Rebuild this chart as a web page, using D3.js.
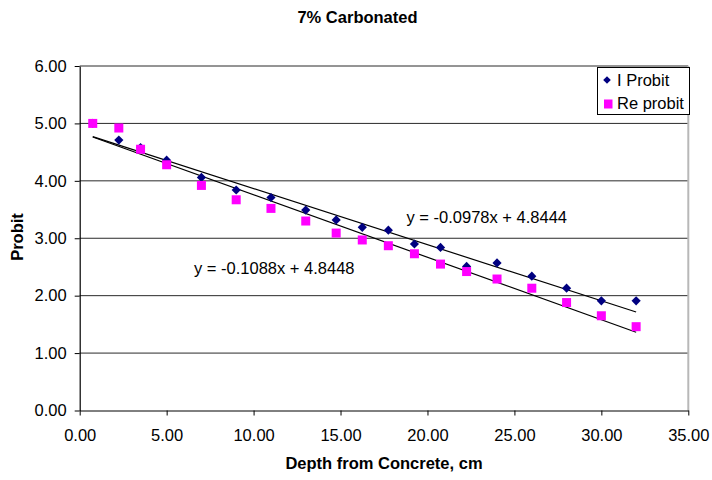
<!DOCTYPE html>
<html>
<head>
<meta charset="utf-8">
<script src="https://cdn.jsdelivr.net/npm/d3@7"></script>
<style>
    body { margin: 0; background: #fff; }
    text { font-family: "Liberation Sans", Arial, sans-serif; }
</style>
</head>
<body>
<svg id="chart" width="712" height="480"></svg>
<script>
var depth = [0.75, 2.25, 3.5, 5, 7, 9, 11, 13, 14.75, 16.25, 17.75, 19.25, 20.75, 22.25, 24, 26, 28, 30, 32]
var iProbit = [5.00, 4.71, 4.58, 4.36, 4.06, 3.84, 3.71, 3.49, 3.32, 3.19, 3.14, 2.90, 2.84, 2.51, 2.57, 2.34, 2.13, 1.91, 1.91]
var reProbit = [5.00, 4.92, 4.55, 4.28, 3.92, 3.67, 3.52, 3.30, 3.09, 2.97, 2.87, 2.73, 2.55, 2.42, 2.29, 2.13, 1.88, 1.65, 1.46]
var seriesNames = ['I Probit', 'Re probit']
// trendline coefficients [slope, intercept]
var trendI = [-0.0978, 4.8444]
var trendRe = [-0.1088, 4.8448]
var xTicks = [0, 5, 10, 15, 20, 25, 30, 35]
var yTicks = [0, 1, 2, 3, 4, 5, 6]

var svg = d3.select("#chart")
var fs = 16.5

var x = d3.scaleLinear().domain([0, 35]).range([79.7, 688.3])
var y = d3.scaleLinear().domain([0, 6]).range([410.5, 66])

// gridlines
svg.append("g")
    .selectAll("line")
    .data(yTicks.slice(1))
    .enter().append("line")
    .attr("x1", x(0)).attr("x2", x(35))
    .attr("y1", d => y(d)).attr("y2", d => y(d))
    .attr("stroke", "#2a2a2a")
    .attr("stroke-width", 1)

// plot area right border
svg.append("line")
    .attr("x1", x(35)).attr("x2", x(35))
    .attr("y1", y(6)).attr("y2", y(0))
    .attr("stroke", "#b8b8b8")
    .attr("stroke-width", 2)

var xAxis = svg.append("g")
    .attr("transform", `translate(0,${y(0)})`)
    .call(d3.axisBottom(x).tickValues(xTicks).tickFormat(d3.format(".2f"))
        .tickSize(5).tickSizeOuter(0).tickPadding(14))

var yAxis = svg.append("g")
    .attr("transform", `translate(${x(0)},0)`)
    .call(d3.axisLeft(y).tickValues(yTicks).tickFormat(d3.format(".2f"))
        .tickSize(5).tickSizeOuter(0).tickPadding(8))

svg.selectAll(".tick text")
    .style("font-size", fs + "px")
    .attr("fill", "#000")
svg.selectAll(".domain, .tick line").attr("stroke", "#000")
yAxis.select(".domain").attr("stroke-width", 1.2)

// trendlines
function trend(c) {
    var x0 = d3.min(depth), x1 = d3.max(depth)
    return [[x0, c[0] * x0 + c[1]], [x1, c[0] * x1 + c[1]]]
}
var line = d3.line().x(d => x(d[0])).y(d => y(d[1]))
;[trendI, trendRe].forEach(function (c) {
    svg.append("path")
        .attr("d", line(trend(c)))
        .attr("fill", "none")
        .attr("stroke", "#000")
        .attr("stroke-width", 1.2)
})

var diamond = "M0,-4.6L4.6,0L0,4.6L-4.6,0Z"

svg.append("g")
    .selectAll("path")
    .data(depth.map((d, i) => [d, iProbit[i]]))
    .enter().append("path")
    .attr("d", diamond)
    .attr("transform", d => `translate(${x(d[0])},${y(d[1])})`)
    .attr("fill", "#000080")

svg.append("g")
    .selectAll("rect")
    .data(depth.map((d, i) => [d, reProbit[i]]))
    .enter().append("rect")
    .attr("x", d => x(d[0]) - 4.5)
    .attr("y", d => y(d[1]) - 4.5)
    .attr("width", 9)
    .attr("height", 9)
    .attr("fill", "#ff00ff")

// equations
svg.append("text")
    .attr("x", 406.5).attr("y", 222.5)
    .style("font-size", fs + "px")
    .text("y = " + trendI[0] + "x + " + trendI[1])
svg.append("text")
    .attr("x", 194).attr("y", 273.5)
    .style("font-size", fs + "px")
    .text("y = " + trendRe[0] + "x + " + trendRe[1])

// titles
svg.append("text")
    .attr("x", 357.5).attr("y", 23)
    .attr("text-anchor", "middle")
    .style("font-size", fs + "px")
    .style("font-weight", "bold")
    .text("7% Carbonated")

svg.append("text")
    .attr("x", 384).attr("y", 469)
    .attr("text-anchor", "middle")
    .style("font-size", fs + "px")
    .style("font-weight", "bold")
    .text("Depth from Concrete, cm")

svg.append("text")
    .attr("transform", "translate(23,237) rotate(-90)")
    .attr("text-anchor", "middle")
    .style("font-size", fs + "px")
    .style("font-weight", "bold")
    .text("Probit")

// legend
var legend = svg.append("g").attr("transform", "translate(597.5,67.5)")
legend.append("rect")
    .attr("width", 92).attr("height", 47)
    .attr("fill", "#fff")
    .attr("stroke", "#000")
legend.append("path")
    .attr("d", "M0,-3.8L3.8,0L0,3.8L-3.8,0Z")
    .attr("transform", "translate(9.5,12.5)")
    .attr("fill", "#000080")
legend.append("rect")
    .attr("x", 6.5).attr("y", 32)
    .attr("width", 8.5).attr("height", 9)
    .attr("fill", "#ff00ff")
legend.selectAll("text.lab")
    .data(seriesNames)
    .enter().append("text")
    .attr("class", "lab")
    .attr("x", 19.5)
    .attr("y", (d, i) => 18 + i * 23.5)
    .style("font-size", fs + "px")
    .text(d => d)
</script>
</body>
</html>
